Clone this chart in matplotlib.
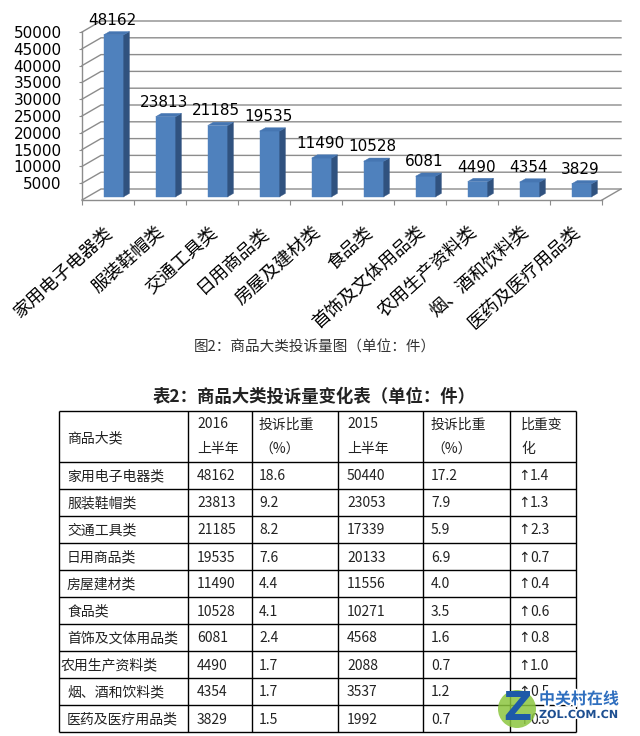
import numpy as np
import matplotlib.pyplot as plt
from matplotlib.patches import Polygon, Circle
import matplotlib.patheffects as pe

plt.rcParams['font.family'] = ['Noto Sans CJK SC', 'DejaVu Sans']

# ---- chart data ----
categories = ["家用电子电器类", "服装鞋帽类", "交通工具类", "日用商品类", "房屋及建材类",
              "食品类", "首饰及文体用品类", "农用生产资料类", "烟、酒和饮料类", "医药及医疗用品类"]
complaints = [48162, 23813, 21185, 19535, 11490, 10528, 6081, 4490, 4354, 3829]
y_ticks = list(range(5000, 50001, 5000))

# ---- table data ----
table_names = ["家用电子电器类", "服装鞋帽类", "交通工具类", "日用商品类", "房屋建材类",
               "食品类", "首饰及文体用品类", "农用生产资料类", "烟、酒和饮料类", "医药及医疗用品类"]
count_2016 = [48162, 23813, 21185, 19535, 11490, 10528, 6081, 4490, 4354, 3829]
share_2016 = ["18.6", "9.2", "8.2", "7.6", "4.4", "4.1", "2.4", "1.7", "1.7", "1.5"]
count_2015 = [50440, 23053, 17339, 20133, 11556, 10271, 4568, 2088, 3537, 1992]
share_2015 = ["17.2", "7.9", "5.9", "6.9", "4.0", "3.5", "1.6", "0.7", "1.2", "0.7"]
share_change = ["1.4", "1.3", "2.3", "0.7", "0.4", "0.6", "0.8", "1.0", "0.5", "0.8"]
header = [["商品大类"], ["2016", "上半年"], ["投诉比重", "（%）"],
          ["2015", "上半年"], ["投诉比重", "（%）"], ["比重变", "化"]]

caption = "图2：商品大类投诉量图（单位：件）"
table_title = "表2：商品大类投诉量变化表（单位：件）"

W, H = 640, 736
fig = plt.figure(figsize=(W / 100, H / 100), dpi=100)

GRID = "#8c8c8c"
FRONT = "#4F81BD"
SIDE = "#30527F"
TOP = "#4676B2"

# ---- pseudo-3D column chart ----
ax = fig.add_axes([82 / W, 1 - 200 / H, 520 / W, 168 / H])
n = len(categories)
ymax = 50000
ax.set_xlim(0, n)
ax.set_ylim(0, ymax)

dx = 19 / 52                 # depth offset in category units
dy = 11 / 168 * ymax         # depth offset in value units
d0, d1 = 0.3, 0.6            # bar sits between these depth fractions
bw = 20 / 52

# walls / gridlines
for v in [0] + y_ticks:
    ax.plot([0, dx, n + dx], [v, v + dy, v + dy], color=GRID, lw=1.0,
            clip_on=False, zorder=1)
ax.plot([n, n + dx], [0, dy], color=GRID, lw=1.0, clip_on=False, zorder=1)

for s in ["top", "right"]:
    ax.spines[s].set_visible(False)
for s in ["left", "bottom"]:
    ax.spines[s].set_color(GRID)
    ax.spines[s].set_linewidth(1.0)
ax.patch.set_visible(False)

ax.set_yticks(y_ticks)
ax.set_yticklabels([str(v) for v in y_ticks], family="DejaVu Sans")
ax.tick_params(axis="y", length=2.5, color=GRID, pad=12, labelsize=11)
ax.set_xticks(np.arange(0, n + 1))
ax.set_xticklabels([])
ax.tick_params(axis="x", length=3.6, color=GRID)

for i, (cat, v) in enumerate(zip(categories, complaints)):
    c = i + 0.5
    xl = c - bw / 2 + d0 * dx
    xr = c + bw / 2 + d0 * dx
    yb = d0 * dy
    yt = v + d0 * dy
    ddx = (d1 - d0) * dx
    ddy = (d1 - d0) * dy
    ax.add_patch(Polygon([(xl, yb), (xr, yb), (xr, yt), (xl, yt)],
                         closed=True, fc=FRONT, ec=FRONT, lw=0.3, zorder=3, clip_on=False))
    ax.add_patch(Polygon([(xr, yb), (xr + ddx, yb + ddy), (xr + ddx, yt + ddy), (xr, yt)],
                         closed=True, fc=SIDE, ec=SIDE, lw=0.3, zorder=3, clip_on=False))
    ax.add_patch(Polygon([(xl, yt), (xr, yt), (xr + ddx, yt + ddy), (xl + ddx, yt + ddy)],
                         closed=True, fc=TOP, ec=TOP, lw=0.3, zorder=3, clip_on=False))
    ax.annotate(str(v), xy=(c + 0.08, yt), xytext=(0, 10.5), textcoords="offset points",
                ha="center", va="center", fontsize=11, family="DejaVu Sans",
                color="black", zorder=4, annotation_clip=False)
    ax.annotate(cat, xy=(c, 0), xytext=(1.5, -21.5), textcoords="offset points",
                rotation=42, rotation_mode="anchor", ha="right", va="center",
                fontsize=13, color="black", annotation_clip=False)

fig.text(315 / W, 1 - 348 / H, caption, ha="center", va="center",
         fontsize=10.5, color="#333333")
fig.text(314 / W, 1 - 397 / H, table_title, ha="center", va="center",
         fontsize=12.5, fontweight="bold", color="#222222")

# ---- table ----
col_w = [129, 64, 86, 85, 87, 66]
row_h = [51] + [27] * len(table_names)
col_edges = np.concatenate([[0], np.cumsum(col_w)])
row_edges = np.concatenate([[0], np.cumsum(row_h)])
tw, th = col_edges[-1], row_edges[-1]

tax = fig.add_axes([59 / W, 1 - 732 / H, tw / W, th / H])
tax.set_xlim(0, tw)
tax.set_ylim(th, 0)
tax.axis("off")
tax.vlines(col_edges, 0, th, color="black", lw=1.0, clip_on=False)
tax.hlines(row_edges, 0, tw, color="black", lw=1.0, clip_on=False)

pads = [8, 9, 7, 9, 8, 11]
TXT = "#222222"
FS = 10

for j, lines in enumerate(header):
    x = col_edges[j] + pads[j]
    if len(lines) == 1:
        tax.text(x, 27, lines[0], ha="left", va="center", fontsize=FS, color=TXT)
    else:
        tax.text(x, 13.5, lines[0], ha="left", va="center", fontsize=FS, color=TXT)
        tax.text(x, 38.5, lines[1], ha="left", va="center", fontsize=FS, color=TXT)

for i in range(len(table_names)):
    yc = row_edges[i + 1] + row_h[i + 1] / 2 + 1
    name_pad = 2 if table_names[i] == "农用生产资料类" else pads[0]
    tax.text(col_edges[0] + name_pad, yc, table_names[i], ha="left", va="center",
             fontsize=FS, color=TXT)
    cells = [str(count_2016[i]), share_2016[i], str(count_2015[i]), share_2015[i]]
    for j, s in enumerate(cells, start=1):
        tax.text(col_edges[j] + pads[j], yc, s, ha="left", va="center",
                 fontsize=FS, color=TXT)
    tax.text(col_edges[5] + 14, yc, "↑", ha="center", va="center",
             fontsize=10, color=TXT, family="DejaVu Sans")
    tax.text(col_edges[5] + 20, yc, share_change[i], ha="left", va="center",
             fontsize=FS, color=TXT)

# ---- watermark ----
tax.add_patch(Circle((458, 298), 19, fc="#8cc63f", ec="none", alpha=0.85,
                     zorder=5, clip_on=False))
tax.text(458, 298, "Z", ha="center", va="center", fontsize=28, fontweight="bold",
         color="#1e5aa8", family="DejaVu Sans", zorder=6, clip_on=False)
halo = [pe.withStroke(linewidth=2.5, foreground="white")]
tax.text(480, 288, "中关村在线", ha="left", va="center", fontsize=11.5,
         fontweight="bold", color="#2f6fbf", zorder=6, clip_on=False, path_effects=halo)
tax.text(480, 304, "ZOL.COM.CN", ha="left", va="center", fontsize=8,
         fontweight="bold", color="#1d4f91", family="DejaVu Sans", zorder=6,
         clip_on=False, path_effects=halo)

fig.savefig("out.png", dpi=100)
